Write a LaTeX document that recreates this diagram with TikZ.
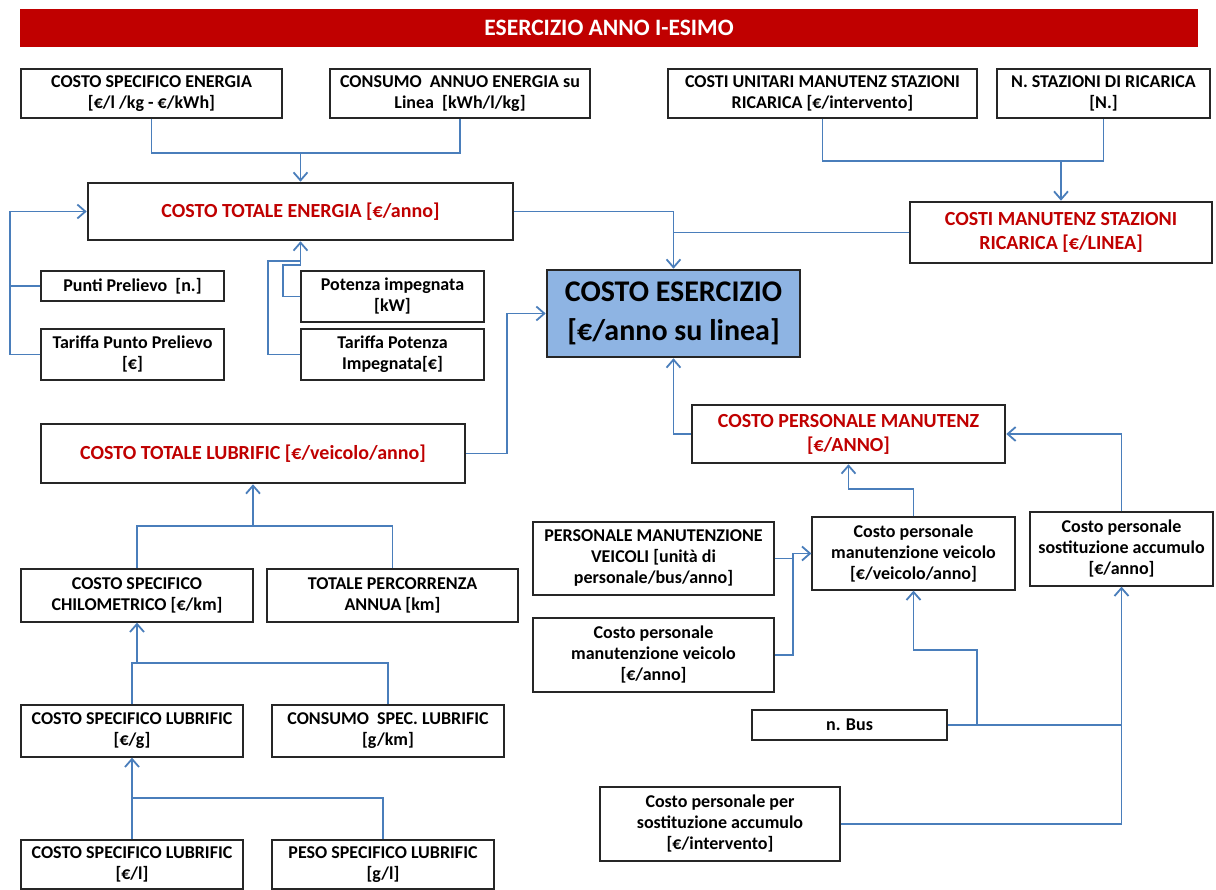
\documentclass[tikz,border=0pt]{standalone}
\usepackage{fontspec}
\setmainfont{Carlito}
\usetikzlibrary{arrows.meta,calc}

\definecolor{bannerred}{HTML}{C00000}
\definecolor{linkblue}{HTML}{4A7EBB}
\definecolor{mainfill}{HTML}{8EB4E3}

\begin{document}
\begin{tikzpicture}[x=1pt,y=-1pt,>={Straight Barb[length=8pt,width=14pt]},
  cbox/.style={draw=black!85,line width=1.3pt,fill=white,align=center,inner sep=1pt,
    font=\bfseries\fontsize{18}{21}\selectfont},
  tbox/.style={cbox,line width=2.6pt,text=bannerred,font=\bfseries\fontsize{20}{24}\selectfont},
  link/.style={draw=linkblue,line width=1.8pt}]
  \useasboundingbox (0,0) rectangle (1216,890);

  % titolo
  \node[fill=bannerred,text=white,minimum width=1178,minimum height=38,
    font=\bfseries\fontsize{23.5}{27}\selectfont] (banner) at (609,28) {ESERCIZIO ANNO I-ESIMO};

  % energia
  \node[cbox,minimum width=261,minimum height=49] (cse) at (151.5,93.5) {COSTO SPECIFICO ENERGIA\\{[}€/l /kg - €/kWh{]}};
  \node[cbox,minimum width=260,minimum height=49] (cae) at (460,93.5) {CONSUMO\ \ ANNUO ENERGIA su\\Linea\ \ {[}kWh/l/kg{]}};
  \node[tbox,minimum width=425,minimum height=57] (cte) at (300.5,211.5) {COSTO TOTALE ENERGIA {[}€/anno{]}};
  \node[cbox,minimum width=183,minimum height=30] (pp) at (132.5,286) {Punti Prelievo\ \ {[}n.{]}};
  \node[cbox,minimum width=183,minimum height=51] (tpp) at (132.5,354.5) {Tariffa Punto Prelievo\\{[}€{]}};
  \node[cbox,minimum width=183,minimum height=51] (pi) at (392.5,296.5) {Potenza impegnata\\{[}kW{]}};
  \node[cbox,minimum width=183,minimum height=51] (tpi) at (392.5,354.5) {Tariffa Potenza\\Impegnata{[}€{]}};

  % stazioni di ricarica
  \node[cbox,minimum width=309,minimum height=49] (cum) at (822.5,93.5) {COSTI UNITARI MANUTENZ STAZIONI\\RICARICA {[}€/intervento{]}};
  \node[cbox,minimum width=213,minimum height=49] (nsr) at (1103.5,93.5) {N. STAZIONI DI RICARICA\\{[}N.{]}};
  \node[tbox,minimum width=302,minimum height=61] (cms) at (1061,232.5) {COSTI MANUTENZ STAZIONI\\RICARICA {[}€/LINEA{]}};

  % costo esercizio
  \node[cbox,line width=2.6pt,fill=mainfill,minimum width=253,minimum height=87,
    font=\bfseries\fontsize{30}{39}\selectfont] (ce) at (673.5,313.5) {COSTO ESERCIZIO\\{[}€/anno su linea{]}};

  % lubrificanti
  \node[tbox,minimum width=424,minimum height=59] (ctl) at (253,453.5) {COSTO TOTALE LUBRIFIC {[}€/veicolo/anno{]}};
  \node[cbox,minimum width=232,minimum height=53] (csc) at (137,595.5) {COSTO SPECIFICO\\CHILOMETRICO {[}€/km{]}};
  \node[cbox,minimum width=251,minimum height=53] (tpa) at (392.5,595.5) {TOTALE PERCORRENZA\\ANNUA {[}km{]}};
  \node[cbox,minimum width=222,minimum height=52] (csl) at (132,731) {COSTO SPECIFICO LUBRIFIC\\{[}€/g{]}};
  \node[cbox,minimum width=232,minimum height=52] (csp) at (388,731) {CONSUMO\ \ SPEC. LUBRIFIC\\{[}g/km{]}};
  \node[cbox,minimum width=222,minimum height=49] (csll) at (132,864.5) {COSTO SPECIFICO LUBRIFIC\\{[}€/l{]}};
  \node[cbox,minimum width=222,minimum height=49] (psl) at (383,864.5) {PESO SPECIFICO LUBRIFIC\\{[}g/l{]}};

  % personale
  \node[tbox,minimum width=313,minimum height=58] (cpm) at (848.5,434) {COSTO PERSONALE MANUTENZ\\{[}€/ANNO{]}};
  \node[cbox,minimum width=241,minimum height=73] (pmv) at (653.5,558.5) {PERSONALE MANUTENZIONE\\VEICOLI {[}unità di\\personale/bus/anno{]}};
  \node[cbox,minimum width=241,minimum height=74] (cpv) at (653.5,655) {Costo personale\\manutenzione veicolo\\{[}€/anno{]}};
  \node[cbox,minimum width=203,minimum height=73] (cpvv) at (913.5,553.5) {Costo personale\\manutenzione veicolo\\{[}€/veicolo/anno{]}};
  \node[cbox,minimum width=183,minimum height=74] (cpsa) at (1121.5,549) {Costo personale\\sostituzione accumulo\\{[}€/anno{]}};
  \node[cbox,minimum width=195,minimum height=30] (nbus) at (849.5,725) {n. Bus};
  \node[cbox,minimum width=240,minimum height=74] (cpss) at (720,824) {Costo personale per\\sostituzione accumulo\\{[}€/intervento{]}};

  % collegamenti
  \coordinate (j1) at (300.5,153);
  \coordinate (j2) at (1061,161);
  \coordinate (j3) at (253,526);
  \coordinate (j4) at (137,663);
  \coordinate (j5) at (132,798);
  \coordinate (jl) at (10,354.5);
  \coordinate (jb) at (977,725);

  \draw[link] (cse.south) |- (j1) -| (cae.south);
  \draw[link,->] (j1) -- (cte.north);
  \draw[link] (cum.south) |- (j2) -| (nsr.south);
  \draw[link,->] (j2) -- (cms.north);
  \draw[link,->] (cte.east) -| (ce.north);
  \draw[link] (cms.west) -- (cms.west -| ce.north);
  \draw[link,->] (tpp.west) -- (jl) |- (cte.west);
  \draw[link] (pp.west) -- (pp.west -| jl);
  \draw[link,->] (pi.west) -- ++(-17,0) |- ($(cte.south)+(0,24)$) -- (cte.south);
  \draw[link] (tpi.west) -- ++(-32,0) |- ($(cte.south)+(0,20)$);
  \draw[link,->] (ctl.east) -- ++(41,0) |- (ce.west);
  \draw[link,->] (cpm.west) -| (ce.south);

  \draw[link] (csc.north) |- (j3) -| (tpa.north);
  \draw[link,->] (j3) -- (ctl.south);
  \draw[link] (csl.north) |- (j4) -| (csp.north);
  \draw[link,->] (j4) -- (csc.south);
  \draw[link] (csll.north) |- (j5) -| (psl.north);
  \draw[link,->] (j5) -- (csl.south);

  \draw[link,->] (pmv.east) -- ++(18,0) |- (cpvv.west);
  \draw[link] (cpv.east) -- ++(18,0) |- (cpvv.west);
  \draw[link,->] (cpvv.north) -- ++(0,-27) -| (cpm.south);
  \draw[link,->] (cpsa.north) |- (cpm.east);
  \draw[link,->] (nbus.east) -| (cpsa.south);
  \draw[link,->] (jb) -- ++(0,-75) -| (cpvv.south);
  \draw[link] (cpss.east) -| (nbus.east -| cpsa.south);
\end{tikzpicture}
\end{document}
